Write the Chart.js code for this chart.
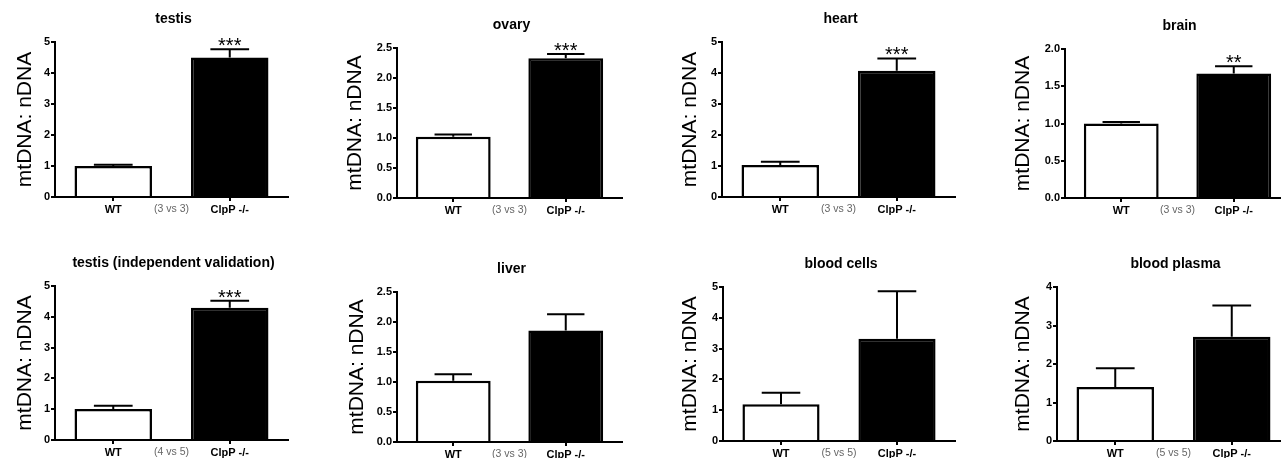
<!DOCTYPE html>
<html>
<head>
<meta charset="utf-8">
<script src="https://cdn.jsdelivr.net/npm/chart.js@4.4.1/dist/chart.umd.min.js"></script>
<style>
  html, body { margin: 0; padding: 0; background: #fff; }
  #wrap { position: relative; width: 1281px; height: 458px; overflow: hidden; background: #fff; }
  .panel { position: absolute; }
</style>
</head>
<body>
<div id="wrap"></div>
<script>
// ---- data ----
const categories = ['WT', 'ClpP -/-'];
const titles = ['testis', 'ovary', 'heart', 'brain', 'testis (independent validation)', 'liver', 'blood cells', 'blood plasma'];
const wtMean = [1.00, 1.02, 1.03, 1.00, 1.01, 1.02, 1.19, 1.40];
const wtSem  = [0.04, 0.04, 0.11, 0.02, 0.10, 0.11, 0.38, 0.49];
const koMean = [4.50, 2.33, 4.07, 1.67, 4.29, 1.86, 3.32, 2.71];
const koSem  = [0.27, 0.07, 0.40, 0.10, 0.23, 0.27, 1.54, 0.81];
const stars  = ['***', '***', '***', '**', '***', '', '', ''];
const nLabels = ['(3 vs 3)', '(3 vs 3)', '(3 vs 3)', '(3 vs 3)', '(4 vs 5)', '(3 vs 3)', '(5 vs 5)', '(5 vs 5)'];
const yMax  = [5, 2.5, 5, 2.0, 5, 2.5, 5, 4];
const yStep = [1, 0.5, 1, 0.5, 1, 0.5, 1, 1];
const yDecimals = [0, 1, 0, 1, 0, 1, 0, 0];
const yTitle = 'mtDNA: nDNA';

// ---- layout (pixel boxes of each panel) ----
const panelBox = [
  {x0: 0,   y0: 0,   w: 320, h: 229, l: 55,   r: 288,  t: 42,  b: 197, lab: 25},
  {x0: 320, y0: 0,   w: 320, h: 229, l: 397,  r: 622,  t: 48,  b: 198, lab: 35},
  {x0: 640, y0: 0,   w: 320, h: 229, l: 722,  r: 955,  t: 42,  b: 197, lab: 50},
  {x0: 960, y0: 0,   w: 335, h: 229, l: 1065, r: 1290, t: 49,  b: 198, lab: 63},
  {x0: 0,   y0: 229, w: 320, h: 229, l: 55,   r: 288,  t: 286, b: 440, lab: 25},
  {x0: 320, y0: 229, w: 320, h: 229, l: 397,  r: 622,  t: 292, b: 442, lab: 37},
  {x0: 640, y0: 229, w: 320, h: 229, l: 723,  r: 955,  t: 287, b: 441, lab: 50},
  {x0: 960, y0: 229, w: 335, h: 229, l: 1057, r: 1290, t: 287, b: 441, lab: 63}
];

Chart.defaults.color = '#000';
Chart.defaults.font.family = '"Liberation Sans", Arial, sans-serif';

const FONT = '"Liberation Sans", Arial, sans-serif';

const decoPlugin = {
  id: 'deco',
  afterDatasetsDraw(chart, args, opts) {
    const ctx = chart.ctx;
    const ys = chart.scales.y;
    const xs = chart.scales.x;
    const meta = chart.getDatasetMeta(0);
    const means = opts.means, sems = opts.sems;
    ctx.save();
    ctx.strokeStyle = '#000';
    ctx.lineWidth = 2;
    meta.data.forEach((bar, i) => {
      const yTop = ys.getPixelForValue(means[i] + sems[i]);
      const yM = ys.getPixelForValue(means[i]);
      const half = bar.width * 0.25;
      ctx.beginPath();
      ctx.moveTo(bar.x, yM);
      ctx.lineTo(bar.x, yTop);
      ctx.moveTo(bar.x - half, yTop);
      ctx.lineTo(bar.x + half, yTop);
      ctx.stroke();
      if (i === 1 && opts.stars) {
        ctx.fillStyle = '#000';
        ctx.font = '20px ' + FONT;
        ctx.textAlign = 'center';
        ctx.textBaseline = 'alphabetic';
        ctx.fillText(opts.stars, bar.x, yTop + 3);
      }
    });
    // chart title
    const ca = chart.chartArea;
    ctx.fillStyle = '#000';
    ctx.font = 'bold 14px ' + FONT;
    ctx.textAlign = 'center';
    ctx.textBaseline = 'middle';
    ctx.fillText(opts.title, (ca.left + ca.right) / 2 + 2, ca.top - 23);
    // n label between categories
    const xMid = (xs.getPixelForValue(0) + xs.getPixelForValue(1)) / 2;
    ctx.fillStyle = '#666';
    ctx.font = '10.5px ' + FONT;
    ctx.fillText(opts.nLabel, xMid, ca.bottom + 12);
    ctx.restore();
  }
};

panelBox.forEach((p, k) => {
  const div = document.createElement('div');
  div.className = 'panel';
  div.style.left = p.x0 + 'px';
  div.style.top = p.y0 + 'px';
  div.style.width = p.w + 'px';
  div.style.height = p.h + 'px';
  const cv = document.createElement('canvas');
  div.appendChild(cv);
  document.getElementById('wrap').appendChild(div);

  const yWidth = p.l - p.x0;
  const xHeight = p.y0 + p.h - p.b;
  const titleLH = 21 * 1.2;

  new Chart(cv, {
    type: 'bar',
    data: {
      labels: categories,
      datasets: [{
        data: [wtMean[k], koMean[k]],
        backgroundColor: ['#ffffff', '#000000'],
        borderColor: '#000000',
        borderWidth: 2.5,
        borderSkipped: 'start',
        categoryPercentage: 1.0,
        barPercentage: 0.665
      }]
    },
    options: {
      responsive: true,
      maintainAspectRatio: false,
      animation: false,
      events: [],
      layout: { padding: { left: 0, top: p.t - p.y0, right: p.x0 + p.w - p.r, bottom: 0 } },
      plugins: {
        legend: { display: false },
        title: { display: false },
        tooltip: { enabled: false },
        deco: {
          means: [wtMean[k], koMean[k]],
          sems: [wtSem[k], koSem[k]],
          stars: stars[k],
          title: titles[k],
          nLabel: nLabels[k]
        }
      },
      scales: {
        x: {
          grid: { display: true, offset: false, drawOnChartArea: false, drawTicks: true, tickLength: 4, color: '#000', lineWidth: 2 },
          border: { display: true, color: '#000', width: 2 },
          ticks: { font: { size: 11, weight: 'bold' }, padding: 2, color: '#000', maxRotation: 0 },
          afterFit(s) { s.height = xHeight; }
        },
        y: {
          min: 0,
          max: yMax[k],
          grid: { display: true, drawOnChartArea: false, drawTicks: true, tickLength: 4, color: '#000', lineWidth: 2 },
          border: { display: true, color: '#000', width: 2 },
          ticks: {
            stepSize: yStep[k],
            font: { size: 11, weight: 'bold' },
            padding: 1,
            color: '#000',
            callback: (v) => Number(v).toFixed(yDecimals[k])
          },
          title: {
            display: true,
            text: yTitle,
            font: { size: 21, weight: 'normal' },
            color: '#000',
            padding: { top: Math.max(0, p.lab - titleLH / 2), bottom: 0 }
          },
          afterFit(s) { s.width = yWidth; }
        }
      }
    },
    plugins: [decoPlugin]
  });
});
</script>
</body>
</html>
